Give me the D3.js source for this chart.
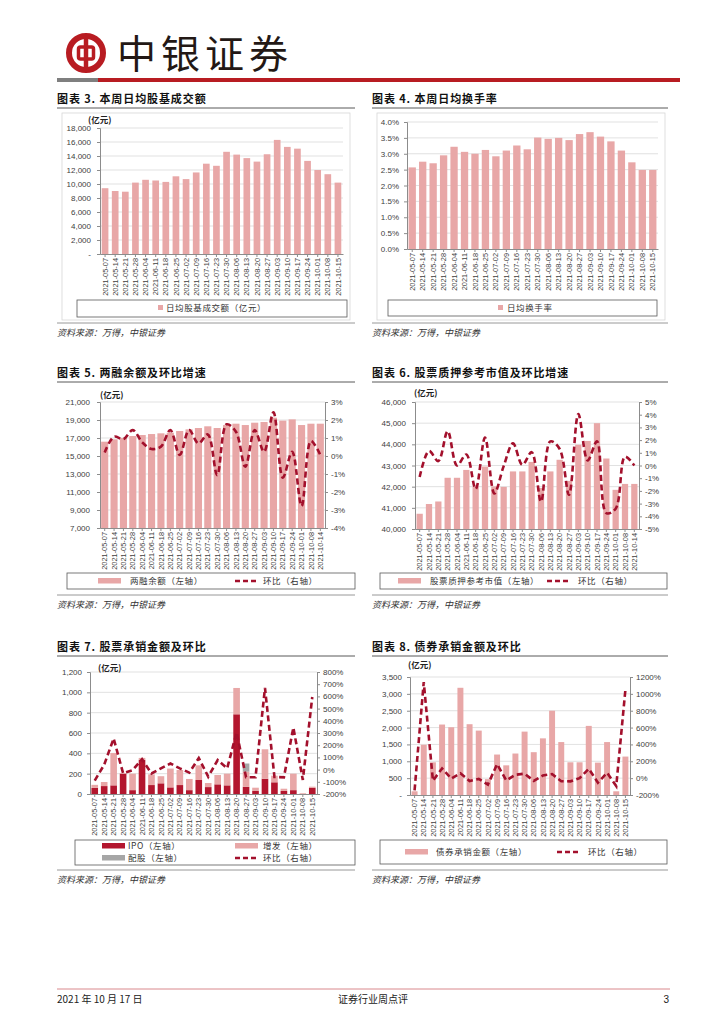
<!DOCTYPE html>
<html>
<head>
<meta charset="utf-8">
<script src="https://cdn.jsdelivr.net/npm/d3@7"></script>
<style>
body { margin: 0; background: #fff; }
svg text { font-family: "Liberation Sans", Arial, sans-serif; }
</style>
</head>
<body>
<svg id="page" width="724" height="1024"></svg>
<script>
// ---- data ----
var weeks = ["2021-05-07", "2021-05-14", "2021-05-21", "2021-05-28", "2021-06-04", "2021-06-11",
    "2021-06-18", "2021-06-25", "2021-07-02", "2021-07-09", "2021-07-16", "2021-07-23",
    "2021-07-30", "2021-08-06", "2021-08-13", "2021-08-20", "2021-08-27", "2021-09-03",
    "2021-09-10", "2021-09-17", "2021-09-24", "2021-10-01", "2021-10-08", "2021-10-15"];
var weeksThu = weeks.slice(0, 23).concat(["2021-10-14"]);

var dailyTurnover = [9400, 9000, 8900, 10200, 10600, 10500, 10300, 11100, 10700, 11650, 12900, 12600,
    14600, 14200, 13700, 13200, 14250, 16300, 15300, 15050, 13300, 12000, 11400, 10200];
var turnoverRate = [2.57, 2.75, 2.70, 2.95, 3.22, 3.06, 3.00, 3.12, 2.92, 3.10, 3.26, 3.14,
    3.51, 3.47, 3.50, 3.43, 3.62, 3.68, 3.54, 3.39, 3.10, 2.73, 2.49, 2.49];

var marginBalance = [16590, 16850, 17000, 17220, 17330, 17440, 17520, 17590, 17780, 17960, 18110, 18300,
    18110, 18440, 18590, 18440, 18700, 18780, 19260, 18930, 19070, 18440, 18590, 18590];
var marginChange = [0.2, 1.07, 0.94, 1.44, 0.76, 0.39, 0.52, 1.44, 0.06, 1.44, 0.7, 1.2,
    -1.06, 1.76, 1.35, -0.6, 1.44, 0.24, 2.43, -1.2, 0.24, -2.78, 0.83, 0.06];

var pledgeValue = [40720, 41180, 41300, 42420, 42420, 42790, 42000, 42950, 42010, 41990, 42720, 42720,
    43170, 41940, 42720, 43270, 42270, 43980, 44160, 45000, 43330, 41850, 42130, 42130];
var pledgeChange = [-0.9, 1.14, 0.35, 2.7, 0.0, 0.87, -1.85, 2.2, -2.2, -0.05, 1.74, 0.05,
    1.05, -2.85, 1.9, 1.3, -2.3, 4.05, 0.4, 1.9, -3.75, -3.4, 0.7, 0.0];

var ipoAmount = [60, 78, 85, 200, 38, 335, 88, 105, 65, 88, 38, 138, 68, 95, 85, 784, 70, 30, 150, 115, 30, 38, 0, 60];
var seoAmount = [30, 40, 318, 5, 162, 20, 105, 70, 185, 148, 110, 144, 40, 92, 115, 259, 150, 32, 290, 65, 22, 162, 7, 12];
var rightsAmount = [0, 0, 0, 0, 0, 0, 0, 0, 0, 0, 0, 0, 0, 0, 0, 0, 80, 0, 0, 0, 0, 0, 0, 0];
var equityChange = [-90, 40, 255, -30, -5, 85, -32, 10, 50, 10, -25, 95, -58, 78, 10, 305, -62, -63, 670, -60, -63, 345, -85, 595];

var bondAmount = [110, 1490, 970, 2090, 2010, 3180, 2100, 1910, 470, 1200, 880, 1230,
    1880, 1270, 1680, 2500, 1570, 970, 970, 2050, 960, 1570, 110, 1140];
var bondChange = [-145, 1140, -30, 115, -4, 58, -34, -9, -76, 166, -27, 40, 53, -32, 32, 49, -37, -38, 0, 111, -53, 63, -93, 1050];

// ---- colours and fonts ----
const PINK = "#e8a7a7", DARKRED = "#a3102c", IPORED = "#b3162e", GREY = "#a6a6a6", BRAND = "#b81c22";
const CN = "'Noto Sans CJK SC', sans-serif";

var svg = d3.select("#page");

// ---- page header ----
var logo = svg.append("g").attr("transform", "translate(86,53)");
logo.append("circle").attr("r", 17).attr("fill", "none").attr("stroke", BRAND).attr("stroke-width", 6);
logo.append("rect").attr("x", -7.5).attr("y", -6).attr("width", 15).attr("height", 12).attr("rx", 2)
    .attr("fill", "none").attr("stroke", BRAND).attr("stroke-width", 3.5);
logo.append("line").attr("x1", 0).attr("x2", 0).attr("y1", -19).attr("y2", 19)
    .attr("stroke", BRAND).attr("stroke-width", 4.5);

svg.append("text").attr("x", 117).attr("y", 68).text("中银证券")
    .style("font-family", CN).style("font-size", "39px").style("letter-spacing", "5px").attr("fill", "#231815");

svg.append("rect").attr("x", 57).attr("y", 78).attr("width", 41).attr("height", 4).attr("fill", "#7f7f7f");
svg.append("rect").attr("x", 98).attr("y", 78).attr("width", 582).attr("height", 4).attr("fill", BRAND);

// ---- footer ----
svg.append("line").attr("x1", 57).attr("x2", 670).attr("y1", 989).attr("y2", 989)
    .attr("stroke", "#d9888c").attr("stroke-width", 1);
svg.append("text").attr("x", 57).attr("y", 1003).text("2021 年 10 月 17 日")
    .style("font-family", CN).style("font-size", "10px").attr("fill", "#222");
svg.append("text").attr("x", 373).attr("y", 1003).attr("text-anchor", "middle").text("证券行业周点评")
    .style("font-family", CN).style("font-size", "10px").attr("fill", "#222");
svg.append("text").attr("x", 669).attr("y", 1003).attr("text-anchor", "end").text("3")
    .style("font-size", "10px").attr("fill", "#222");

// panel title with rule under it, and source line at the bottom
function panelFrame(x0, x1, titleY, sourceY, title) {
    svg.append("text").attr("x", x0).attr("y", titleY).text(title)
        .style("font-family", CN).style("font-weight", 700).style("font-size", "11px")
        .style("letter-spacing", "0.9px").attr("fill", "#111");
    svg.append("line").attr("x1", x0).attr("x2", x1).attr("y1", titleY + 5).attr("y2", titleY + 5)
        .attr("stroke", "#595959").attr("stroke-width", 1);
    svg.append("line").attr("x1", x0).attr("x2", x1).attr("y1", sourceY).attr("y2", sourceY)
        .attr("stroke", "#7f7f7f").attr("stroke-width", 0.8);
    svg.append("text").attr("x", x0).attr("y", sourceY + 13).text("资料来源：万得，中银证券")
        .style("font-family", CN).style("font-style", "italic").style("font-size", "9px").attr("fill", "#333");
}

function styleAxis(sel, size) {
    sel.select(".domain").attr("stroke", "#8c8c8c");
    sel.selectAll(".tick line").attr("stroke", "#8c8c8c");
    sel.selectAll("text").attr("fill", "#404040").style("font-size", size + "px")
        .style("font-family", "'Liberation Sans', Arial, sans-serif");
}

// generic bar (+ optional line on a right axis) chart
function comboChart(o) {
    var g = svg.append("g");

    var x = d3.scaleBand().domain(o.cats).range([o.left, o.right])
        .paddingInner(o.pad).paddingOuter(o.pad / 2);
    // clamp so bars on a non-zero axis start at the axis floor
    var y = d3.scaleLinear().domain(o.yDomain).range([o.bottom, o.top]).clamp(true);

    // gridlines
    g.selectAll(".grid").data(o.yTicks.slice(1)).enter().append("line")
        .attr("x1", o.left).attr("x2", o.right)
        .attr("y1", d => y(d)).attr("y2", d => y(d))
        .attr("stroke", "#d9d9d9").attr("stroke-width", 0.8);

    // stacked bars
    var rows = o.cats.map((c, i) => {
        var r = { cat: c };
        o.bars.forEach((b, j) => { r["k" + j] = b.values[i]; });
        return r;
    });
    var stacked = d3.stack().keys(o.bars.map((b, j) => "k" + j))(rows);
    stacked.forEach((layer, j) => {
        g.append("g").selectAll("rect").data(layer).enter().append("rect")
            .attr("x", d => x(d.data.cat))
            .attr("width", x.bandwidth())
            .attr("y", d => y(d[1]))
            .attr("height", d => Math.max(0, y(d[0]) - y(d[1])))
            .attr("fill", o.bars[j].color);
    });

    // left axis
    var ax = g.append("g").attr("transform", "translate(" + o.left + ",0)")
        .call(d3.axisLeft(y).tickValues(o.yTicks).tickFormat(o.yFormat).tickSize(3).tickPadding(o.yPad));
    styleAxis(ax, 8);

    // category axis
    var bx = g.append("g").attr("transform", "translate(0," + o.bottom + ")")
        .call(d3.axisBottom(x).tickSize(3).tickSizeOuter(0));
    styleAxis(bx, o.catSize);
    bx.selectAll("text")
        .attr("transform", "rotate(-90)")
        .attr("x", -4).attr("y", 0).attr("dy", "0.35em")
        .style("text-anchor", "end");

    // right axis + line
    if (o.line) {
        var y2 = d3.scaleLinear().domain(o.y2Domain).range([o.bottom, o.top]);
        var ax2 = g.append("g").attr("transform", "translate(" + o.right + ",0)")
            .call(d3.axisRight(y2).tickValues(o.y2Ticks).tickFormat(d => d + "%").tickSize(3).tickPadding(3));
        styleAxis(ax2, 8);

        var line = d3.line()
            .x((d, i) => x(o.cats[i]) + x.bandwidth() / 2)
            .y(d => y2(d))
            .curve(o.smooth ? d3.curveCatmullRom.alpha(0.5) : d3.curveLinear);
        g.append("path").datum(o.line)
            .attr("d", line)
            .attr("fill", "none")
            .attr("stroke", DARKRED)
            .attr("stroke-width", 2.6)
            .attr("stroke-dasharray", "6,3.5");
    }

    if (o.unitLabel) {
        g.append("text").attr("x", o.unitLabel[0]).attr("y", o.unitLabel[1]).text("(亿元)")
            .style("font-family", CN).style("font-weight", 700).style("font-size", "8.5px").attr("fill", "#222");
    }
}

// legend box with swatches
function legendBox(box, items) {
    svg.append("rect").attr("x", box[0]).attr("y", box[1]).attr("width", box[2]).attr("height", box[3])
        .attr("fill", "#fff").attr("stroke", "#595959").attr("stroke-width", 0.8);
    items.forEach(it => {
        if (it.type == "square") {
            svg.append("rect").attr("x", it.x).attr("y", it.y - 3).attr("width", 5).attr("height", 5).attr("fill", it.color);
        } else if (it.type == "bar") {
            svg.append("rect").attr("x", it.x).attr("y", it.y - 3).attr("width", 23).attr("height", 5.5).attr("fill", it.color);
        } else {
            svg.append("line").attr("x1", it.x).attr("x2", it.x + 23).attr("y1", it.y).attr("y2", it.y)
                .attr("stroke", it.color).attr("stroke-width", 2.6).attr("stroke-dasharray", "5,3");
        }
        svg.append("text").attr("x", it.tx).attr("y", it.y + 3.2).text(it.label)
            .style("font-family", CN).style("font-size", "8.5px").style("letter-spacing", "0.6px").attr("fill", "#333");
    });
}

// ---- 图表 3 ----
panelFrame(57, 355, 103, 323, "图表 3. 本周日均股基成交额");
svg.append("rect").attr("x", 62).attr("y", 113).attr("width", 288).attr("height", 207)
    .attr("fill", "none").attr("stroke", "#d6d6d6").attr("stroke-width", 0.8);
comboChart({
    cats: weeks, left: 100, right: 343, top: 128, bottom: 254, pad: 0.34,
    yDomain: [0, 18000], yTicks: d3.range(0, 18001, 2000),
    yFormat: d => d === 0 ? "-" : d3.format(",")(d), yPad: 6, catSize: 7.4,
    bars: [{ values: dailyTurnover, color: PINK }],
    unitLabel: [88, 123]
});
legendBox([77, 300, 270, 17], [
    { type: "square", color: PINK, x: 158, y: 308, tx: 166, label: "日均股基成交额（亿元）" }
]);

// ---- 图表 4 ----
panelFrame(372, 668, 103, 323, "图表 4. 本周日均换手率");
svg.append("rect").attr("x", 377).attr("y", 113).attr("width", 288).attr("height", 207)
    .attr("fill", "none").attr("stroke", "#d6d6d6").attr("stroke-width", 0.8);
comboChart({
    cats: weeks, left: 407, right: 658, top: 122, bottom: 249, pad: 0.3,
    yDomain: [0, 4], yTicks: d3.range(0, 4.01, 0.5),
    yFormat: d => d.toFixed(1) + "%", yPad: 5, catSize: 7.4,
    bars: [{ values: turnoverRate, color: PINK }]
});
legendBox([388, 300, 269, 16], [
    { type: "square", color: PINK, x: 498, y: 308, tx: 507, label: "日均换手率" }
]);

// ---- 图表 5 ----
panelFrame(57, 355, 377, 595, "图表 5. 两融余额及环比增速");
comboChart({
    cats: weeksThu, left: 100, right: 325, top: 402, bottom: 528, pad: 0.24,
    yDomain: [7000, 21000], yTicks: d3.range(7000, 21001, 2000),
    yFormat: d3.format(","), yPad: 7, catSize: 7.4,
    bars: [{ values: marginBalance, color: PINK }],
    line: marginChange, smooth: true,
    y2Domain: [-4, 3], y2Ticks: d3.range(-4, 3.01, 1),
    unitLabel: [100, 398]
});
legendBox([67, 573, 288, 16], [
    { type: "bar", color: PINK, x: 98, y: 581, tx: 130, label: "两融余额（左轴）" },
    { type: "dash", color: DARKRED, x: 235, y: 581, tx: 263, label: "环比（右轴）" }
]);

// ---- 图表 6 ----
panelFrame(372, 668, 377, 595, "图表 6. 股票质押参考市值及环比增速");
comboChart({
    cats: weeksThu, left: 415, right: 639, top: 402, bottom: 529, pad: 0.33,
    yDomain: [40000, 46000], yTicks: d3.range(40000, 46001, 1000),
    yFormat: d3.format(","), yPad: 6, catSize: 7.4,
    bars: [{ values: pledgeValue, color: PINK }],
    line: pledgeChange, smooth: true,
    y2Domain: [-5, 5], y2Ticks: d3.range(-5, 5.01, 1),
    unitLabel: [414, 396]
});
legendBox([380, 573, 287, 16], [
    { type: "bar", color: PINK, x: 398, y: 581, tx: 430, label: "股票质押参考市值（左轴）" },
    { type: "dash", color: DARKRED, x: 547, y: 581, tx: 578, label: "环比（右轴）" }
]);

// ---- 图表 7 ----
panelFrame(57, 355, 651, 870, "图表 7. 股票承销金额及环比");
comboChart({
    cats: weeks, left: 90, right: 317, top: 672, bottom: 794, pad: 0.3,
    yDomain: [0, 1200], yTicks: d3.range(0, 1201, 200),
    yFormat: d3.format(","), yPad: 5, catSize: 7.4,
    bars: [{ values: ipoAmount, color: IPORED }, { values: seoAmount, color: PINK }, { values: rightsAmount, color: GREY }],
    line: equityChange, smooth: false,
    y2Domain: [-200, 800], y2Ticks: d3.range(-200, 801, 100),
    unitLabel: [98, 671]
});
legendBox([75, 840, 280, 25], [
    { type: "bar", color: IPORED, x: 102, y: 846, tx: 128, label: "IPO（左轴）" },
    { type: "bar", color: PINK, x: 235, y: 846, tx: 263, label: "增发（左轴）" },
    { type: "bar", color: GREY, x: 102, y: 858, tx: 128, label: "配股（左轴）" },
    { type: "dash", color: DARKRED, x: 235, y: 858, tx: 263, label: "环比（右轴）" }
]);

// ---- 图表 8 ----
panelFrame(372, 668, 651, 870, "图表 8. 债券承销金额及环比");
comboChart({
    cats: weeks, left: 410, right: 630, top: 677, bottom: 795, pad: 0.35,
    yDomain: [0, 3500], yTicks: d3.range(0, 3501, 500),
    yFormat: d => d === 0 ? "-" : d3.format(",")(d), yPad: 5, catSize: 7.4,
    bars: [{ values: bondAmount, color: PINK }],
    line: bondChange, smooth: false,
    y2Domain: [-200, 1200], y2Ticks: d3.range(-200, 1201, 200),
    unitLabel: [408, 668]
});
legendBox([380, 840, 287, 24], [
    { type: "bar", color: PINK, x: 405, y: 852, tx: 436, label: "债券承销金额（左轴）" },
    { type: "dash", color: DARKRED, x: 557, y: 852, tx: 588, label: "环比（右轴）" }
]);
</script>
</body>
</html>
